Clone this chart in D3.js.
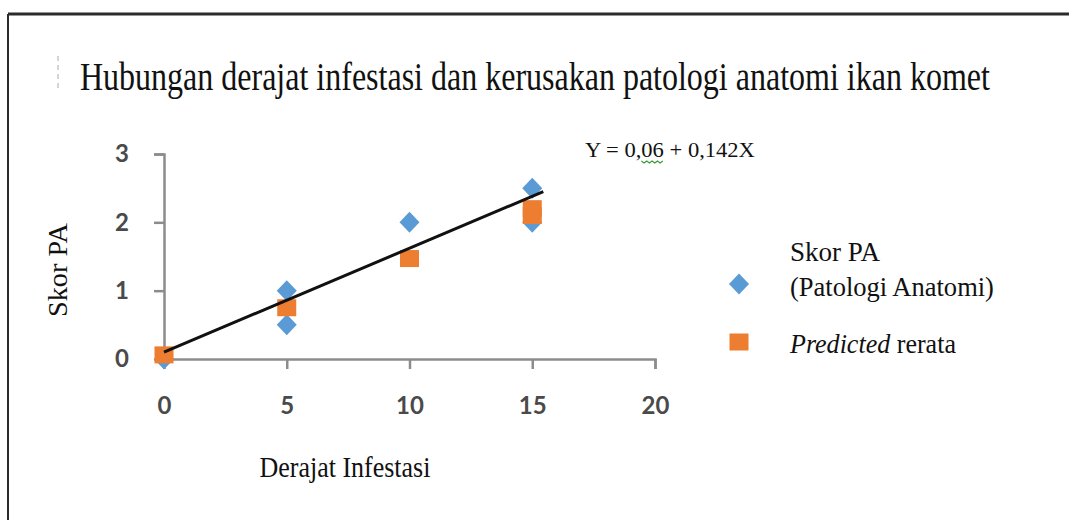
<!DOCTYPE html>
<html lang="id">
<head>
    <meta charset="UTF-8">
    <title>Hubungan derajat infestasi dan kerusakan patologi anatomi ikan komet</title>
    <script src="https://d3js.org/d3.v7.min.js"></script>
    <style>
        body {
            margin: 0;
            background: #fff;
        }
        svg {
            display: block;
        }
        .serif {
            font-family: "Liberation Serif", "Times New Roman", serif;
            fill: #111;
        }
        .tick text {
            font-family: Lato, "Open Sans", sans-serif;
            font-weight: bold;
            font-size: 24px;
            fill: #4a4a4a;
        }
        .tick line, .domain {
            stroke: #8c8c8c;
            stroke-width: 2.5;
        }
    </style>
</head>
<body>
<div id="container"></div>
<script>
    // data
    const skorX = [0, 5, 5, 10, 15, 15];          // Derajat Infestasi
    const skorY = [0, 1, 0.5, 2, 2.5, 2];         // Skor PA (Patologi Anatomi)
    const predX = [0, 5, 10, 15, 15];
    const predY = [0.06, 0.75, 1.47, 2.1, 2.2];   // Predicted rerata
    const trendX = [0, 15.45];
    const trendY = [0.1, 2.45];
    const xTicks = [0, 5, 10, 15, 20];
    const yTicks = [0, 1, 2, 3];

    const W = 1069, H = 520;
    const svg = d3.select('#container').append('svg')
        .attr('width', W)
        .attr('height', H);

    // the source picture is squeezed sideways, so squeeze each text to its measured width
    function fitText(x, y, size, width, anchor, rotate) {
        const g = svg.append('g');
        const t = g.append('text').attr('class', 'serif')
            .attr('font-size', size)
            .attr('text-anchor', anchor || 'start');
        return {
            g: g,
            t: t,
            done: function () {
                const sx = width / t.node().getComputedTextLength();
                g.attr('transform', `translate(${x},${y})` + (rotate ? ` rotate(${rotate})` : '') + ` scale(${sx},1)`);
                return this;
            }
        };
    }

    // frame (top + left edge of the cropped box)
    svg.append('line').attr('x1', 8).attr('x2', W).attr('y1', 14).attr('y2', 14)
        .attr('stroke', '#2b2b2b').attr('stroke-width', 3);
    svg.append('line').attr('x1', 8).attr('x2', 8).attr('y1', 14).attr('y2', H)
        .attr('stroke', '#2b2b2b').attr('stroke-width', 2);

    // faint cursor mark left of the title
    svg.append('line').attr('x1', 58).attr('x2', 58).attr('y1', 56).attr('y2', 90)
        .attr('stroke', '#c8c8c8').attr('stroke-width', 1.5).attr('stroke-dasharray', '5,4');

    // title
    const title = fitText(80, 90, 40, 910);
    title.t.text('Hubungan derajat infestasi dan kerusakan patologi anatomi ikan komet');
    title.done();

    // scales
    const x = d3.scaleLinear().domain([0, 20]).range([164, 655]);
    const y = d3.scaleLinear().domain([0, 3]).range([359, 154]);

    // axes
    svg.append('g')
        .attr('transform', `translate(0,${y(0)})`)
        .call(d3.axisBottom(x).tickValues(xTicks).tickFormat(d3.format('d'))
            .tickSizeOuter(0).tickSize(10).tickPadding(28))
        .call(g => g.selectAll('.tick').filter(d => d === 0).select('line').remove());

    svg.append('g')
        .attr('transform', `translate(${x(0)},0)`)
        .call(d3.axisLeft(y).tickValues(yTicks).tickFormat(d3.format('d'))
            .tickSizeOuter(0).tickSize(10).tickPadding(26))
        .call(g => g.selectAll('.tick').filter(d => d === 0).select('line').remove())
        .call(g => g.selectAll('.tick text').attr('text-anchor', 'middle').attr('x', -42));

    // axis titles
    const xt = fitText(345, 477, 30, 171, 'middle');
    xt.t.text('Derajat Infestasi');
    xt.done();

    const yt = fitText(67, 270, 28, 94, 'middle', -90);
    yt.t.text('Skor PA');
    yt.done();

    // markers
    const diamond = 'M0,-10.5L10,0L0,10.5L-10,0Z';
    const blue = '#5b9bd5', orange = '#ed7d31';

    svg.selectAll('.skor')
        .data(d3.range(skorX.length))
        .enter()
        .append('path')
        .attr('class', 'skor')
        .attr('d', diamond)
        .attr('fill', blue)
        .attr('transform', i => `translate(${x(skorX[i])},${y(skorY[i])})`);

    svg.selectAll('.pred')
        .data(d3.range(predX.length))
        .enter()
        .append('rect')
        .attr('class', 'pred')
        .attr('x', i => x(predX[i]) - 9.5)
        .attr('y', i => y(predY[i]) - 8.5)
        .attr('width', 19)
        .attr('height', 17)
        .attr('fill', orange);

    // trend line
    svg.append('path')
        .datum(d3.range(trendX.length))
        .attr('fill', 'none')
        .attr('stroke', '#111')
        .attr('stroke-width', 3)
        .attr('d', d3.line().x(i => x(trendX[i])).y(i => y(trendY[i])));

    // equation, with the spell-check squiggle under "06"
    const eq = fitText(585, 157, 21, 170);
    eq.t.text('Y = 0,06 + 0,142X');
    eq.done();
    const n = eq.t.node();
    const s0 = n.getSubStringLength(0, 6), s1 = n.getSubStringLength(0, 8);
    const wave = [];
    for (let p = s0, k = 0; p <= s1; p += 2.5, k++) wave.push([p, 4 + (k % 2 ? 2 : 0)]);
    eq.g.append('path')
        .attr('d', d3.line()(wave))
        .attr('fill', 'none')
        .attr('stroke', '#3a9a3a')
        .attr('stroke-width', 1);

    // legend
    const lx = 739;
    svg.append('path').attr('d', diamond).attr('fill', blue)
        .attr('transform', `translate(${lx},284)`);
    svg.append('rect').attr('x', lx - 9.5).attr('y', 342 - 8.5)
        .attr('width', 19).attr('height', 17).attr('fill', orange);

    const l1 = fitText(790, 261, 27, 90);
    l1.t.text('Skor PA');
    l1.done();
    const l2 = fitText(790, 296, 27, 204);
    l2.t.text('(Patologi Anatomi)');
    l2.done();
    const l3 = fitText(790, 353, 27, 166);
    l3.t.append('tspan').attr('font-style', 'italic').text('Predicted');
    l3.t.append('tspan').text(' rerata');
    l3.done();
</script>
</body>
</html>
